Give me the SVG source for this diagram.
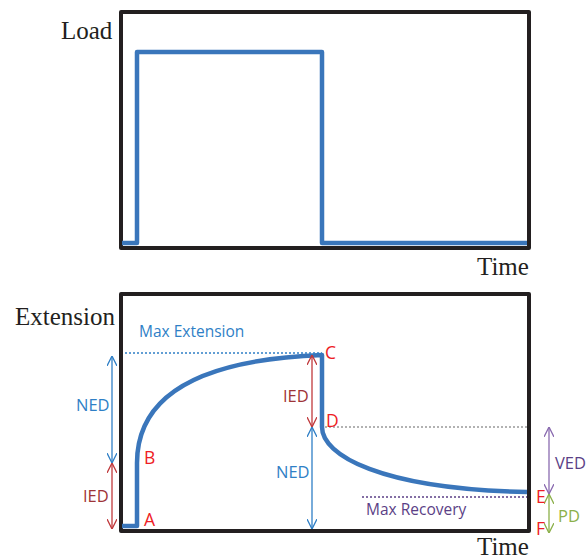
<svg xmlns="http://www.w3.org/2000/svg" width="587" height="560" viewBox="0 0 587 560">
<style>
.box{fill:none;stroke:#231f20;stroke-width:4;stroke-linejoin:round}
.sig{fill:none;stroke:#3a76bb;stroke-width:4.5;stroke-linejoin:round}
.serif{font-family:"Liberation Serif",serif;font-size:25px;fill:#231f20}
.lbl{font-family:"Open Sans","Liberation Sans",sans-serif;font-size:15.5px}
.dl{font-family:"Open Sans","Liberation Sans",sans-serif;font-size:16.5px}
.pt{font-family:"Open Sans","Liberation Sans",sans-serif;font-size:17.5px;fill:#ee1c25}
.dim{stroke-width:1.3;fill:none}
</style>
<defs>
<marker id="ab" viewBox="0 0 10 10" refX="10" refY="5" markerWidth="10" markerHeight="10" markerUnits="userSpaceOnUse" orient="auto-start-reverse"><path d="M0,0 L10,5 L0,10" fill="none" stroke="#2f7fc6" stroke-width="1.3"/></marker>
<marker id="ar" viewBox="0 0 10 10" refX="10" refY="5" markerWidth="10" markerHeight="10" markerUnits="userSpaceOnUse" orient="auto-start-reverse"><path d="M0,0 L10,5 L0,10" fill="none" stroke="#c0393c" stroke-width="1.3"/></marker>
<marker id="ap" viewBox="0 0 10 10" refX="10" refY="5" markerWidth="10" markerHeight="10" markerUnits="userSpaceOnUse" orient="auto-start-reverse"><path d="M0,0 L10,5 L0,10" fill="none" stroke="#8a6bb0" stroke-width="1.3"/></marker>
<marker id="ag" viewBox="0 0 10 10" refX="10" refY="5" markerWidth="10" markerHeight="10" markerUnits="userSpaceOnUse" orient="auto-start-reverse"><path d="M0,0 L10,5 L0,10" fill="none" stroke="#8cb04a" stroke-width="1.3"/></marker>
</defs>

<g id="load-chart">
<rect class="box" x="121" y="12" width="408" height="236"/>
<polyline class="sig" points="122,243 137,243 137,52 322,52 322,243 527,243"/>
<text class="serif" x="61" y="39">Load</text>
<text class="serif" x="477" y="275">Time</text>
</g>

<g id="extension-chart">
<rect class="box" x="121" y="294" width="408" height="237"/>
<text class="serif" x="15" y="325">Extension</text>
<text class="serif" x="477" y="555">Time</text>
<text class="lbl" x="139" y="337" fill="#2f7fc6">Max Extension</text>
<text class="lbl" x="366" y="515" fill="#5b3f86">Max Recovery</text>
</g>

<g id="curve">
<path class="sig" d="M122,526 L137,526 L137,463 C137,400 190,360 322,355 L322,427 C322,455 380,489 527,492"/>
</g>

<g id="connectors">
<line x1="125" y1="353" x2="322" y2="353" stroke="#2f7fc6" stroke-width="1.5" stroke-dasharray="2,2"/>
<line x1="325" y1="427" x2="527" y2="427" stroke="#999" stroke-width="1.3" stroke-dasharray="2,2"/>
<line x1="362" y1="497" x2="527" y2="497" stroke="#5b3f86" stroke-width="1.5" stroke-dasharray="2,2"/>
<line class="dim" x1="112" y1="356" x2="112" y2="463" stroke="#2f7fc6" marker-start="url(#ab)" marker-end="url(#ab)"/>
<line class="dim" x1="112" y1="463" x2="112" y2="529" stroke="#c0393c" marker-start="url(#ar)" marker-end="url(#ar)"/>
<line class="dim" x1="312" y1="355" x2="312" y2="427" stroke="#c0393c" marker-start="url(#ar)" marker-end="url(#ar)"/>
<line class="dim" x1="312" y1="427" x2="312" y2="529" stroke="#2f7fc6" marker-start="url(#ab)" marker-end="url(#ab)"/>
<line class="dim" x1="549" y1="427" x2="549" y2="494" stroke="#8a6bb0" marker-start="url(#ap)" marker-end="url(#ap)"/>
<line class="dim" x1="549" y1="494" x2="549" y2="533" stroke="#8cb04a" marker-start="url(#ag)" marker-end="url(#ag)"/>
</g>

<g id="labels">
<text class="dl" x="76" y="411" fill="#2f7fc6">NED</text>
<text class="dl" x="83" y="502" fill="#9e3437">IED</text>
<text class="dl" x="283" y="402" fill="#9e3437">IED</text>
<text class="dl" x="276" y="478" fill="#2f7fc6">NED</text>
<text class="dl" x="555" y="469" fill="#5b3f86">VED</text>
<text class="dl" x="558" y="522" fill="#8cb04a">PD</text>
<text class="pt" x="144" y="526">A</text>
<text class="pt" x="144" y="464">B</text>
<text class="pt" x="325" y="359">C</text>
<text class="pt" x="326" y="427">D</text>
<text class="pt" x="536" y="503">E</text>
<text class="pt" x="536" y="535">F</text>
</g>
</svg>
